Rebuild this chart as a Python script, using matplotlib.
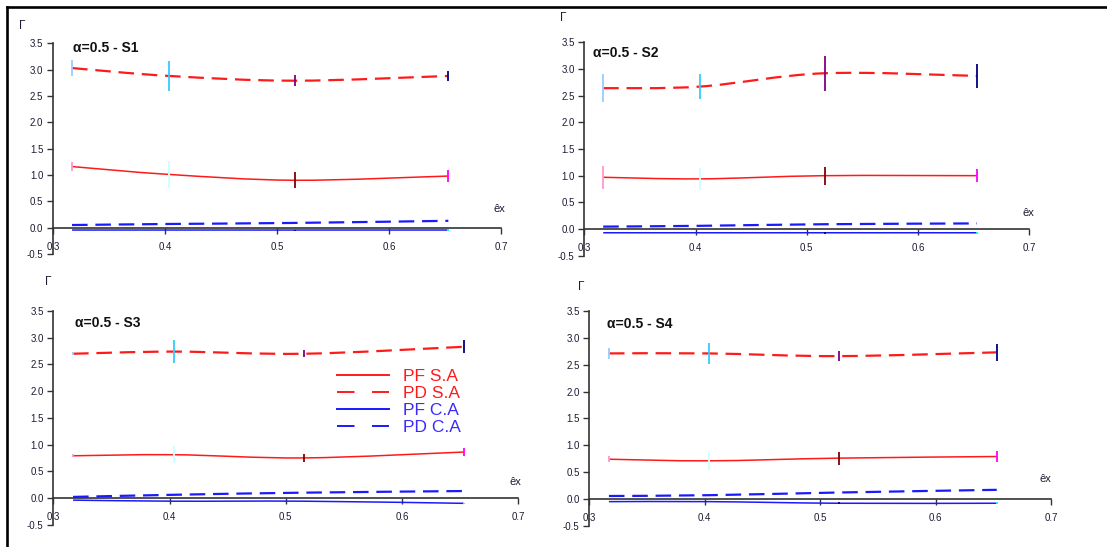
import matplotlib
matplotlib.use("Agg")
import matplotlib.pyplot as plt
from matplotlib.path import Path
from matplotlib.patches import PathPatch
from matplotlib.lines import Line2D

plt.rcParams['font.family'] = ['Liberation Sans', 'DejaVu Sans']

# donnees
x_ex = [0.317, 0.404, 0.516, 0.653]
titres = ["S1", "S2", "S3", "S4"]

pd_sa = [[3.03, 2.88, 2.79, 2.88],
         [2.64, 2.67, 2.92, 2.87],
         [2.70, 2.74, 2.70, 2.83],
         [2.71, 2.71, 2.66, 2.73]]
pf_sa = [[1.16, 1.01, 0.90, 0.98],
         [0.97, 0.94, 1.00, 1.00],
         [0.79, 0.81, 0.75, 0.86],
         [0.74, 0.71, 0.76, 0.79]]
pd_ca = [[0.05, 0.07, 0.09, 0.13],
         [0.045, 0.06, 0.09, 0.105],
         [0.02, 0.06, 0.10, 0.13],
         [0.055, 0.07, 0.12, 0.17]]
pf_ca = [[-0.045, -0.045, -0.045, -0.045],
         [-0.07, -0.07, -0.07, -0.07],
         [-0.04, -0.06, -0.06, -0.10],
         [-0.05, -0.05, -0.08, -0.08]]

err_pd_sa = [[0.16, 0.29, 0.11, 0.095],
             [0.26, 0.23, 0.33, 0.23],
             [0.03, 0.21, 0.07, 0.12],
             [0.10, 0.20, 0.09, 0.16]]
err_pf_sa = [[0.08, 0.26, 0.15, 0.11],
             [0.22, 0.21, 0.17, 0.12],
             [0.03, 0.16, 0.07, 0.08],
             [0.06, 0.17, 0.12, 0.10]]
err_pf_ca = [[0.0, 0.0, 0.01, 0.02],
             [0.0, 0.0, 0.015, 0.015],
             [0.0, 0.0, 0.0, 0.015],
             [0.0, 0.0, 0.015, 0.015]]

# couleurs des barres d'erreur (un par point, comme Excel)
col_pd = ['#99CCFF', '#33CCFF', '#800080', '#000080']
col_pf = ['#FF99CC', '#CCFFFF', '#800000', '#FF00FF']
col_ca = ['#99CCFF', '#CCFFFF', '#000080', '#00FFFF']

W, H = 1107, 547
# position des axes en pixels : gauche, droite, haut, bas
boites = [(53, 501, 43.3, 254), (584.3, 1029.3, 42.3, 255.7),
          (53.3, 518.3, 311, 524.7), (589.3, 1051, 311, 525.8)]
pos_titre = [(0.318, 3.41), (0.308, 3.30), (0.319, 3.28), (0.315, 3.26)]
pos_gamma = [(22, 26), (563, 18), (48, 282), (581, 287)]
pos_ex = [(499, 209), (1028, 213), (515, 482), (1045, 479)]

txt_col = '#1c1c33'


def courbe_lisse(x, y):
    # courbe de Bezier comme le "lissage" d'Excel
    pts = list(zip(x, y))
    n = len(pts)
    verts = [pts[0]]
    codes = [Path.MOVETO]
    for i in range(n - 1):
        p0 = pts[max(i - 1, 0)]
        p1 = pts[i]
        p2 = pts[i + 1]
        p3 = pts[min(i + 2, n - 1)]
        c1 = (p1[0] + (p2[0] - p0[0]) / 6, p1[1] + (p2[1] - p0[1]) / 6)
        c2 = (p2[0] - (p3[0] - p1[0]) / 6, p2[1] - (p3[1] - p1[1]) / 6)
        verts += [c1, c2, p2]
        codes += [Path.CURVE4] * 3
    return Path(verts, codes)


fig = plt.figure(figsize=(W / 100, H / 100), dpi=100)

for k in range(4):
    g, d, h, b = boites[k]
    ax = fig.add_axes([g / W, 1 - b / H, (d - g) / W, (b - h) / H])
    ax.set_xlim(0.3, 0.7)
    ax.set_ylim(-0.5, 3.5)

    series = [(pf_sa[k], '#FF1A1A', '-', 1.1),
              (pd_sa[k], '#FF1A1A', '--', 1.6),
              (pf_ca[k], '#1A1AFF', '-', 1.1),
              (pd_ca[k], '#1A1AFF', '--', 1.6)]
    for yy, c, ls, lw in series:
        patch = PathPatch(courbe_lisse(x_ex, yy), fill=False, edgecolor=c,
                          lw=lw, linestyle=ls if ls == '-' else (0, (7, 3.5)),
                          zorder=2)
        ax.add_patch(patch)

    # barres d'erreur verticales
    ax.vlines(x_ex, [v - e for v, e in zip(pd_sa[k], err_pd_sa[k])],
              [v + e for v, e in zip(pd_sa[k], err_pd_sa[k])],
              colors=col_pd, lw=1.3, zorder=3)
    ax.vlines(x_ex, [v - e for v, e in zip(pf_sa[k], err_pf_sa[k])],
              [v + e for v, e in zip(pf_sa[k], err_pf_sa[k])],
              colors=col_pf, lw=1.3, zorder=3)
    ax.vlines(x_ex, [v - e for v, e in zip(pf_ca[k], err_pf_ca[k])],
              [v + e for v, e in zip(pf_ca[k], err_pf_ca[k])],
              colors=col_ca, lw=1.3, zorder=3)

    # axes a la Excel
    ax.patch.set_alpha(0)
    ax.spines['top'].set_visible(False)
    ax.spines['right'].set_visible(False)
    ax.spines['bottom'].set_position(('data', 0))
    for s in ['left', 'bottom']:
        ax.spines[s].set_color('#333333')
        ax.spines[s].set_linewidth(1.2)
    ax.set_xticks([0.3, 0.4, 0.5, 0.6, 0.7])
    ax.set_yticks([-0.5, 0, 0.5, 1.0, 1.5, 2.0, 2.5, 3.0, 3.5])
    ax.set_xticklabels(['0.3', '0.4', '0.5', '0.6', '0.7'])
    ax.set_yticklabels(['-0.5', '0.0', '0.5', '1.0', '1.5', '2.0', '2.5',
                        '3.0', '3.5'])
    ax.tick_params(direction='out', length=4, width=1, color='#333333',
                   labelsize=7, labelcolor=txt_col)
    ax.tick_params(axis='x', pad=6)
    ax.tick_params(axis='y', pad=3)

    tx, ty = pos_titre[k]
    ax.text(tx, ty, "α=0.5 - " + titres[k], fontsize=10, fontweight='bold',
            color='#111111', va='center', ha='left')

    gx, gy = pos_gamma[k]
    fig.text(gx / W, 1 - gy / H, "Γ", fontsize=8.5, color=txt_col,
             ha='center', va='center')
    ex, ey = pos_ex[k]
    fig.text(ex / W, 1 - ey / H, "êx", fontsize=8, color=txt_col,
             ha='center', va='center')

    if k == 2:
        poignees = [Line2D([], [], color='#FF1A1A', lw=1.4),
                    Line2D([], [], color='#FF1A1A', lw=1.4, dashes=(9, 9)),
                    Line2D([], [], color='#1A1AFF', lw=1.4),
                    Line2D([], [], color='#1A1AFF', lw=1.4, dashes=(9, 9))]
        leg = ax.legend(poignees, ['PF S.A', 'PD S.A', 'PF C.A', 'PD C.A'],
                        frameon=False, fontsize=12.5, handlelength=3.0,
                        handletextpad=0.8, labelspacing=0.1,
                        borderaxespad=0.0,
                        loc='center left', bbox_to_anchor=(0.595, 0.575))
        for t, c in zip(leg.get_texts(), ['#FF1A1A', '#FF1A1A', '#3a2aff', '#3a2aff']):
            t.set_color(c)

# cadre noir (haut et gauche)
fig.add_artist(Line2D([7.3 / W, 7.3 / W], [0, 1 - 7.3 / H], color='black', lw=1.9))
fig.add_artist(Line2D([7.3 / W, 1], [1 - 7.3 / H, 1 - 7.3 / H], color='black', lw=1.9))

fig.savefig("out.png", dpi=100)
